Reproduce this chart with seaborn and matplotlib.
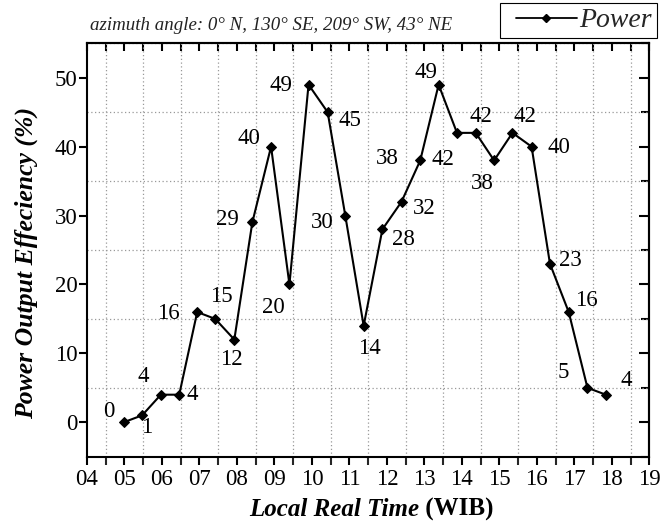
import matplotlib
matplotlib.use("Agg")
import matplotlib.pyplot as plt
import numpy as np
import pandas as pd
import seaborn as sns
from matplotlib.ticker import MultipleLocator
from matplotlib.lines import Line2D
from matplotlib.legend_handler import HandlerLine2D

# ---- data ----
times = [4.98, 5.47, 5.97, 6.46, 6.94, 7.42, 7.93, 8.41, 8.91, 9.40, 9.91,
         10.42, 10.89, 11.38, 11.88, 12.39, 12.89, 13.38, 13.87, 14.37,
         14.86, 15.35, 15.86, 16.35, 16.85, 17.35, 17.84]
power = [0, 1, 4, 4, 16, 15, 12, 29, 40, 20, 49, 45, 30, 14, 28, 32, 38,
         49, 42, 42, 38, 42, 40, 23, 16, 5, 4]
x_ticks = list(range(4, 20))
x_tick_labels = ["04", "05", "06", "07", "08", "09", "10", "11", "12", "13",
                 "14", "15", "16", "17", "18", "19"]
y_ticks = [0, 10, 20, 30, 40, 50]
series_name = "Power"

# label offsets in pixels (dx right, dy up) relative to each point
label_dx = [-15, 5, -18, 13, -29, 6, -3, -25, -22, -16, -28, 22, -23, 6, 21,
            23, -33, -13, -14, 5, -12, 12, 27, 20, 18, -24, 20]
label_dy = [11, -12, 18, 0, -1, 22, -20, 3, 8, -23, -1, -8, -7, -23, -10,
            -7, 2, 12, -27, 16, -23, 16, -1, 3, 12, 15, 14]

sns.set_style("ticks")
plt.rcParams["font.family"] = ["Liberation Serif", "DejaVu Serif"]

W, H = 662, 522
fig = plt.figure(figsize=(W / 100, H / 100), dpi=100)
L, R, T, B = 87, 649.3, 43.3, 456.7
ax = fig.add_axes([L / W, 1 - B / H, (R - L) / W, (B - T) / H])

df = pd.DataFrame({"time": times, "power": power})
sns.lineplot(data=df, x="time", y="power", ax=ax, color="black",
             marker="D", markersize=5.4, markeredgecolor="black",
             linewidth=1.5, legend=False)

ax.set_xlim(4, 19)
ax.set_ylim(-5, 55)
ax.set_xticks(x_ticks)
ax.set_xticklabels(x_tick_labels)
ax.xaxis.set_minor_locator(MultipleLocator(0.5))
ax.set_yticks(y_ticks)
ax.yaxis.set_minor_locator(MultipleLocator(5))

for s in ax.spines.values():
    s.set_linewidth(1.5)
    s.set_color("black")

ax.tick_params(axis="both", which="major", direction="out", length=6,
               width=1.5, labelsize=16.5, colors="black", top=False,
               right=False)
ax.tick_params(axis="x", which="major", pad=3)
ax.tick_params(axis="y", which="major", pad=1)
ax.tick_params(axis="x", which="minor", direction="out", length=6, width=1.5,
               top=False)
ax.tick_params(axis="y", which="minor", length=0, right=False)

ax.grid(which="major", visible=False)
ax.grid(which="minor", color="#999999", linestyle=(0, (1, 2)), linewidth=0.9)

# inward ticks on top and right
secx = ax.secondary_xaxis("top")
secx.set_xticks(x_ticks)
secx.xaxis.set_minor_locator(MultipleLocator(0.5))
secx.tick_params(which="both", direction="in", length=6, width=1.5,
                 labeltop=False, colors="black")
secx.spines["top"].set_linewidth(1.5)
secy = ax.secondary_yaxis("right")
secy.set_yticks(y_ticks)
secy.yaxis.set_minor_locator(MultipleLocator(5))
secy.tick_params(which="major", direction="in", length=7.5, width=1.5,
                 labelright=False, colors="black")
secy.tick_params(which="minor", direction="in", length=5.5, width=1.5,
                 labelright=False, colors="black")
secy.spines["right"].set_linewidth(1.5)

# point labels
for x, y, dx, dy in zip(times, power, label_dx, label_dy):
    ax.annotate(str(y), xy=(x, y), xytext=(dx, dy), textcoords="offset pixels",
                ha="center", va="center", fontsize=16.5, color="black")

# axis labels
ax.set_xlabel("")
ax.set_ylabel("Power Output Effeciency (%)", fontsize=18.5, fontweight="bold",
              fontstyle="italic", color="black")
ax.yaxis.set_label_coords(-0.087, 0.469)

t1 = fig.text(419 / W, 1 - 498 / H, "Local Real Time", fontsize=18,
              fontweight="bold", fontstyle="italic", ha="right", va="top",
              color="black")
ax.annotate(" (WIB)", xy=(1, 0), xycoords=t1, ha="left", va="bottom",
            fontsize=18, fontweight="bold", color="black",
            annotation_clip=False)

# header text
fig.text(90 / W, 1 - 26 / H, "azimuth angle: 0° N, 130° SE, 209° SW, 43° NE",
         fontsize=13.6, fontstyle="italic", ha="left", va="center",
         color="#222222")

# legend
handle = Line2D([], [], color="black", marker="D", markersize=3.8,
                linewidth=1.3)
leg = fig.legend(handles=[handle], labels=[series_name], loc="upper right",
                 bbox_to_anchor=(657 / W, 1 - 3 / H),
                 bbox_transform=fig.transFigure, frameon=True, fancybox=False,
                 edgecolor="black", framealpha=1, borderpad=0.18,
                 handlelength=2.6, handletextpad=0.1, borderaxespad=0,
                 numpoints=1,
                 prop={"size": 20, "style": "italic",
                       "family": "Liberation Serif"},
                 handler_map={handle: HandlerLine2D(xpad=0.4)})
leg.get_frame().set_linewidth(0.8)

fig.savefig("out.png", dpi=100)
